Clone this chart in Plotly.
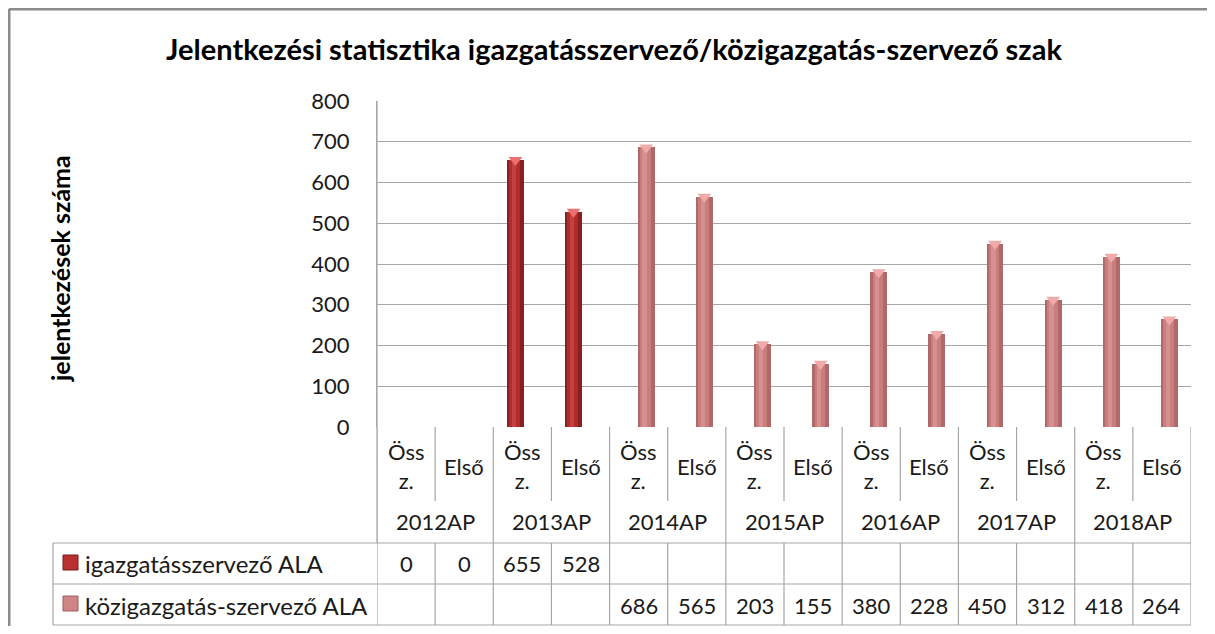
import plotly.graph_objects as go

# ---------------- data ----------------
years = ["2012AP", "2013AP", "2014AP", "2015AP", "2016AP", "2017AP", "2018AP"]
sub_labels = ["Öss<br>z.", "Első"]
series1_name = "igazgatásszervező ALA"
series2_name = "közigazgatás-szervező ALA"
series1 = [0, 0, 655, 528, None, None, None, None, None, None, None, None, None, None]
series2 = [None, None, None, None, 686, 565, 203, 155, 380, 228, 450, 312, 418, 264]
y_ticks = [0, 100, 200, 300, 400, 500, 600, 700, 800]
title_text = "Jelentkezési statisztika igazgatásszervező/közigazgatás-szervező szak"
y_title = "jelentkezések száma"

FONT = "Lato"
n = len(series1)
xs = list(range(n))

OFF = 8  # page body margin
W, H = 1215 - 2 * OFF, 634 - 2 * OFF
L, R, T, B = 377, 1191, 101, 427  # plot area in reference pixels


def px_x(p):
    return (p - L) / (R - L)


def px_y(p):
    return (B - p) / (B - T)


fig = go.Figure()

bar_w = 0.29
s1_center = -0.12
s2_center = 0.13

styles = [
    (series1, s1_center, "#8a1f1f", "#b02d2d", "#c54040", "#ec7070"),
    (series2, s2_center, "#b06868", "#c97e7e", "#d69090", "#f0aaaa"),
]
for vals, c, edge, mid, hi, top in styles:
    fig.add_trace(go.Bar(x=xs, y=vals, width=bar_w, offset=c - bar_w / 2,
                         marker=dict(color=edge, line=dict(width=0)),
                         showlegend=False, hoverinfo="skip"))
    fig.add_trace(go.Bar(x=xs, y=vals, width=bar_w * 0.62, offset=c - bar_w * 0.36,
                         marker=dict(color=mid, line=dict(width=0)),
                         showlegend=False, hoverinfo="skip"))
    fig.add_trace(go.Bar(x=xs, y=vals, width=bar_w * 0.25, offset=c - bar_w * 0.22,
                         marker=dict(color=hi, line=dict(width=0)),
                         showlegend=False, hoverinfo="skip"))
    tops = [v if (v is not None and v > 0) else None for v in vals]
    fig.add_trace(go.Scatter(x=[i + c for i in xs], y=tops, mode="markers",
                             marker=dict(symbol="triangle-down", size=12, color=top,
                                         line=dict(width=0)),
                             cliponaxis=False, showlegend=False, hoverinfo="skip"))

shapes = []
grid = "#a6a6a6"
border = "#8c8c8c"
# outer chart border (top and left edges visible in the frame)
shapes.append(dict(type="line", xref="paper", yref="paper",
                   x0=px_x(9), x1=px_x(1240), y0=px_y(9), y1=px_y(9),
                   line=dict(color=border, width=3), layer="below"))
shapes.append(dict(type="line", xref="paper", yref="paper",
                   x0=px_x(9), x1=px_x(9), y0=px_y(9), y1=px_y(660),
                   line=dict(color=border, width=3), layer="below"))
# data table horizontal lines
for py in (543, 584, 625):
    shapes.append(dict(type="line", xref="paper", yref="paper",
                       x0=px_x(53), x1=1, y0=px_y(py), y1=px_y(py),
                       line=dict(color=grid, width=1.2)))
# left edges
shapes.append(dict(type="line", xref="paper", yref="paper", x0=0, x1=0,
                   y0=px_y(543), y1=1, line=dict(color=grid, width=1.2)))
shapes.append(dict(type="line", xref="paper", yref="paper", x0=px_x(53), x1=px_x(53),
                   y0=px_y(625), y1=px_y(543), line=dict(color=grid, width=1.2)))
# vertical dividers
for k in range(n + 1):
    xb = k - 0.5
    if k % 2 == 0:
        shapes.append(dict(type="line", xref="x", yref="paper", x0=xb, x1=xb,
                           y0=px_y(625), y1=0, line=dict(color=grid, width=1.2)))
    else:
        shapes.append(dict(type="line", xref="x", yref="paper", x0=xb, x1=xb,
                           y0=px_y(501), y1=0, line=dict(color=grid, width=1.2)))
        shapes.append(dict(type="line", xref="x", yref="paper", x0=xb, x1=xb,
                           y0=px_y(625), y1=px_y(543), line=dict(color=grid, width=1.2)))
# legend keys
for py, col, edge in [(563, "#b83030", "#7a1a1a"), (604, "#cf8585", "#9e5c5c")]:
    shapes.append(dict(type="rect", xref="paper", yref="paper",
                       x0=px_x(63), x1=px_x(78), y0=px_y(py + 7), y1=px_y(py - 8),
                       fillcolor=col, line=dict(color=edge, width=1)))

ann = []
tf = dict(family=FONT, size=22, color="#1a1a1a")


def add_text(x, y, text, xref="x", font=tf, xanchor="center", **kw):
    ann.append(dict(x=x, y=y, xref=xref, yref="paper", text=text, showarrow=False,
                    font=font, xanchor=xanchor, yanchor="middle", **kw))


for i in xs:
    add_text(i, px_y(466), sub_labels[i % 2], align="center")
for g, yl in enumerate(years):
    add_text(2 * g + 0.5, px_y(521), yl)
for vals, py in [(series1, 563), (series2, 605)]:
    for i, v in enumerate(vals):
        if v is not None:
            add_text(i, px_y(py), str(v))
lf = dict(family=FONT, size=24, color="#1a1a1a")
add_text(px_x(83), px_y(563), series1_name, xref="paper", font=lf, xanchor="left")
add_text(px_x(83), px_y(605), series2_name, xref="paper", font=lf, xanchor="left")
add_text(px_x(60), px_y(269), "<b>" + y_title + "</b>", xref="paper",
         font=dict(family=FONT, size=25, color="#000"), textangle=-90)

fig.update_layout(
    width=W, height=H,
    margin=dict(l=L - OFF, r=W - (R - OFF), t=T - OFF, b=H - (B - OFF), pad=0),
    paper_bgcolor="white", plot_bgcolor="white",
    title=dict(text="<b>" + title_text + "</b>", x=(614 - OFF) / W,
               xanchor="center", y=1 - (50 - OFF) / H, yanchor="middle",
               font=dict(family=FONT, size=29, color="#000")),
    bargap=0, barmode="overlay",
    xaxis=dict(range=[-0.5, n - 0.5], showticklabels=False, showgrid=False,
               zeroline=False, ticks="", fixedrange=True),
    yaxis=dict(range=[0, 800], tickvals=y_ticks, showgrid=True, gridcolor=grid,
               gridwidth=1.2, zeroline=False, showline=True, linecolor=grid, linewidth=1.2,
               ticks="", ticklabelstandoff=22,
               tickfont=dict(family=FONT, size=22, color="#1a1a1a")),
    shapes=shapes, annotations=ann,
)

fig.write_html("out.html")
